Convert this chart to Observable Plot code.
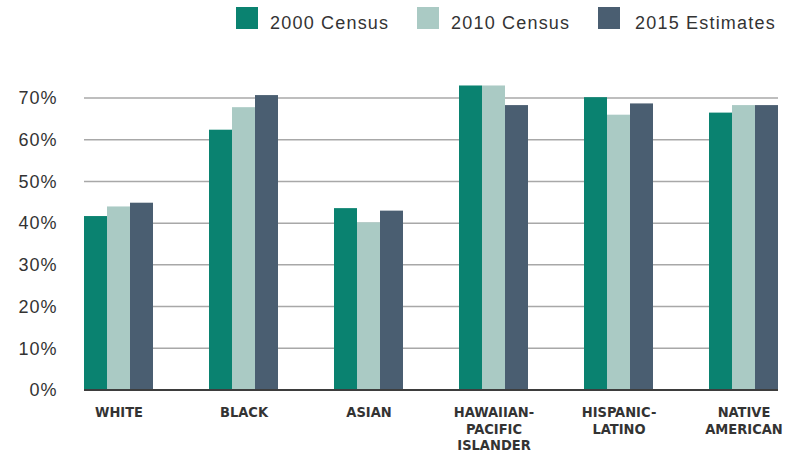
<!DOCTYPE html>
<html>
<head>
<meta charset="utf-8">
<script src="https://cdn.jsdelivr.net/npm/d3@7"></script>
<script src="https://cdn.jsdelivr.net/npm/@observablehq/plot@0.6"></script>
<style>
  html, body { margin: 0; padding: 0; background: #fff; }
  #wrap { position: relative; width: 789px; height: 453px; overflow: hidden; }
  #legend { position: relative; width: 789px; height: 40px; font-family: "Liberation Sans", Arial, sans-serif; color: #333; }
  #legend .sw { position: absolute; top: 7px; width: 22px; height: 22px; }
  #legend .lb { position: absolute; top: 12px; height: 22px; line-height: 22px; font-size: 18px; letter-spacing: 1.2px; white-space: nowrap; }
  svg g[aria-label="y-axis tick label"] text { letter-spacing: 1px; }
</style>
</head>
<body>
<div id="wrap">
  <div id="legend"></div>
  <div id="chart"></div>
</div>
<script>
const groups = ["WHITE", "BLACK", "ASIAN", "HAWAIIAN-PACIFIC ISLANDER", "HISPANIC-LATINO", "NATIVE AMERICAN"];
const groupLabels = ["WHITE", "BLACK", "ASIAN", "HAWAIIAN-\nPACIFIC\nISLANDER", "HISPANIC-\nLATINO", "NATIVE\nAMERICAN"];
const series = ["2000 Census", "2010 Census", "2015 Estimates"];
const colors = ["#0a8270", "#aacac4", "#4a5e71"];
const v2000 = [41.7, 62.4, 43.6, 73.0, 70.2, 66.5];
const v2010 = [44.0, 67.8, 40.2, 73.0, 66.0, 68.3];
const v2015 = [44.9, 70.7, 43.0, 68.3, 68.7, 68.3];
const yTicks = [0, 10, 20, 30, 40, 50, 60, 70];

const seriesValues = [v2000, v2010, v2015];
const data = [];
groups.forEach((g, i) => {
  series.forEach((s, j) => data.push({group: g, series: s, value: seriesValues[j][i]}));
});

// legend
const legend = document.getElementById("legend");
const swLeft = [236, 417, 598];
const lbLeft = [270, 451, 635];
series.forEach((s, j) => {
  const sw = document.createElement("div");
  sw.className = "sw";
  sw.style.left = swLeft[j] + "px";
  sw.style.background = colors[j];
  legend.appendChild(sw);
  const lb = document.createElement("div");
  lb.className = "lb";
  lb.style.left = lbLeft[j] + "px";
  lb.textContent = s;
  legend.appendChild(lb);
});

// full-width horizontal rules drawn once across all facets, positioned by the y scale
function hRules(values, stroke, strokeWidth) {
  return Plot.frame({
    facet: "super",
    stroke: "none",
    render(index, scales, chValues, dims) {
      const g = d3.create("svg:g");
      for (const t of values) {
        const yy = scales.y(t);
        g.append("line")
          .attr("x1", dims.marginLeft)
          .attr("x2", dims.width - dims.marginRight)
          .attr("y1", yy)
          .attr("y2", yy)
          .attr("stroke", stroke)
          .attr("stroke-width", strokeWidth);
      }
      return g.node();
    }
  });
}

const chart = Plot.plot({
  width: 789,
  height: 413,
  marginTop: 58,
  marginBottom: 63,
  marginLeft: 84,
  marginRight: 11,
  style: {fontFamily: "Liberation Sans, Arial, sans-serif", fontSize: "18px", color: "#333", background: "#fff"},
  fx: {domain: groups, paddingInner: 0.448, paddingOuter: 0, axis: null, label: null},
  x: {domain: series, padding: 0, axis: null, label: null},
  y: {domain: [0, 70], ticks: yTicks, tickFormat: d => d + "%", tickSize: 0, tickPadding: 27, label: null, axis: "left"},
  color: {domain: series, range: colors},
  marks: [
    hRules(yTicks.filter(t => t > 0), "#a8a8a8", 1.5),
    Plot.barY(data, {fx: "group", x: "series", y: "value", fill: "series"}),
    hRules([0], "#3d3d3d", 2),
    Plot.text(groups, {
      fx: d => d,
      text: (d, i) => groupLabels[i],
      frameAnchor: "bottom",
      lineAnchor: "top",
      dy: 15,
      lineHeight: 1.14,
      fontFamily: "Liberation Sans Narrow, Arial Narrow, DejaVu Sans Condensed, sans-serif",
      fontWeight: "bold",
      fontSize: 14.5,
      fill: "#333"
    })
  ]
});
document.getElementById("chart").appendChild(chart);
</script>
</body>
</html>
